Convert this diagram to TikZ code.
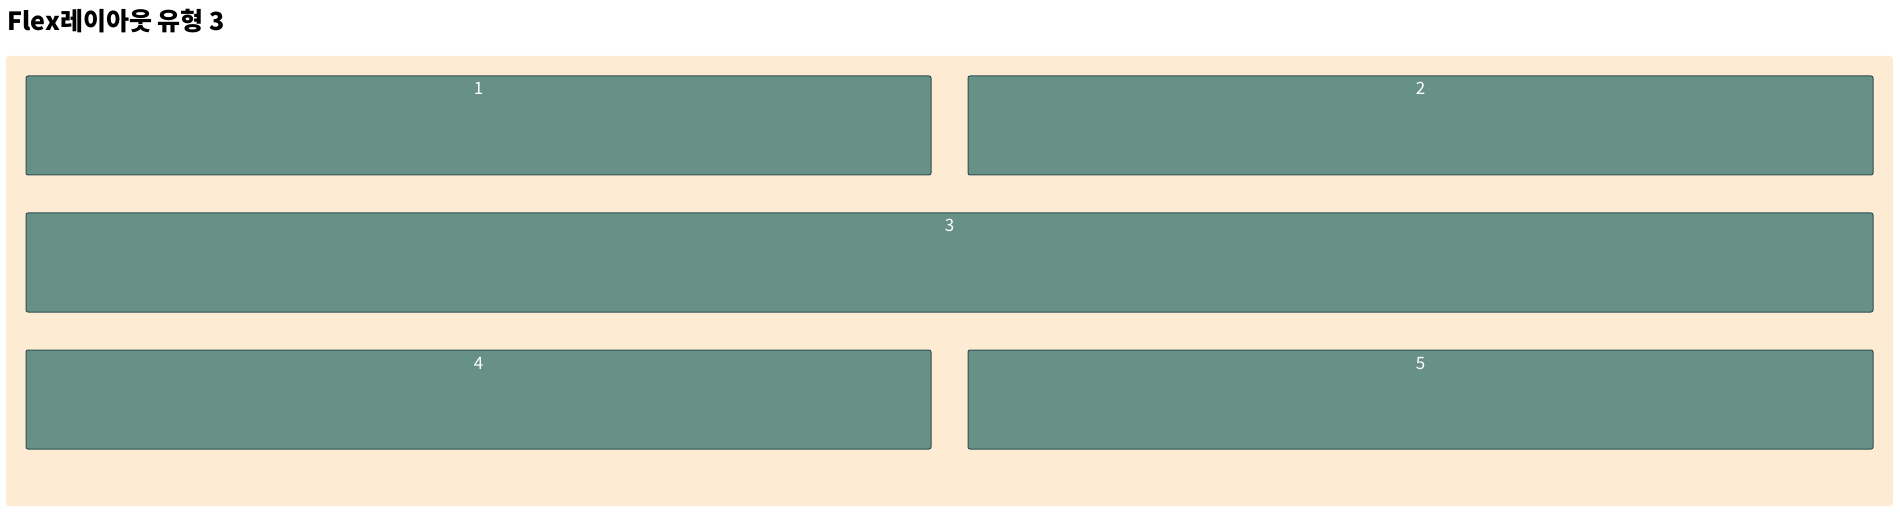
\documentclass[tikz,border=0pt]{standalone}
\usepackage{fontspec}
\setmainfont{Noto Sans CJK KR}
\definecolor{wrapbg}{HTML}{FDEBD3}
\definecolor{itemfill}{HTML}{679186}
\definecolor{itemline}{HTML}{2F4F55}

\begin{document}
\begin{tikzpicture}[x=0.5pt, y=-0.5pt,
  wrap/.style={fill=wrapbg, rounded corners=1.5pt, minimum width=943.5pt, minimum height=225pt, inner sep=0pt, outer sep=0pt},
  half/.style={draw=itemline, fill=itemfill, line width=0.5pt, rounded corners=1pt, minimum width=452.5pt, minimum height=49.5pt, inner sep=0pt, outer sep=0pt},
  full/.style={half, minimum width=923.5pt},
  num/.style={text=white, font=\fontsize{8.5}{10}\selectfont, anchor=base, inner sep=0pt}]
\useasboundingbox (0,0) rectangle (1900,518);

% =================================================================================
% title and container
% =================================================================================
\node[anchor=base west, inner sep=0pt, font=\fontsize{12.5}{15}\selectfont\bfseries] (title) at (7,31) {Flex레이아웃 유형 3};
\node[wrap] (box) at (949.5,281) {};

% =================================================================================
% the five items
% =================================================================================
\node[half] (i1) at (478.5,125.5) {};
\node[half] (i2) at (1420.5,125.5) {};
\node[full] (i3) at (949.5,262.5) {};
\node[half] (i4) at (478.5,399.5) {};
\node[half] (i5) at (1420.5,399.5) {};

\node[num] (n1) at (478.5,95)  {1};
\node[num] (n2) at (1420.5,95) {2};
\node[num] (n3) at (949.5,232) {3};
\node[num] (n4) at (478.5,369) {4};
\node[num] (n5) at (1420.5,369) {5};

\end{tikzpicture}
\end{document}
